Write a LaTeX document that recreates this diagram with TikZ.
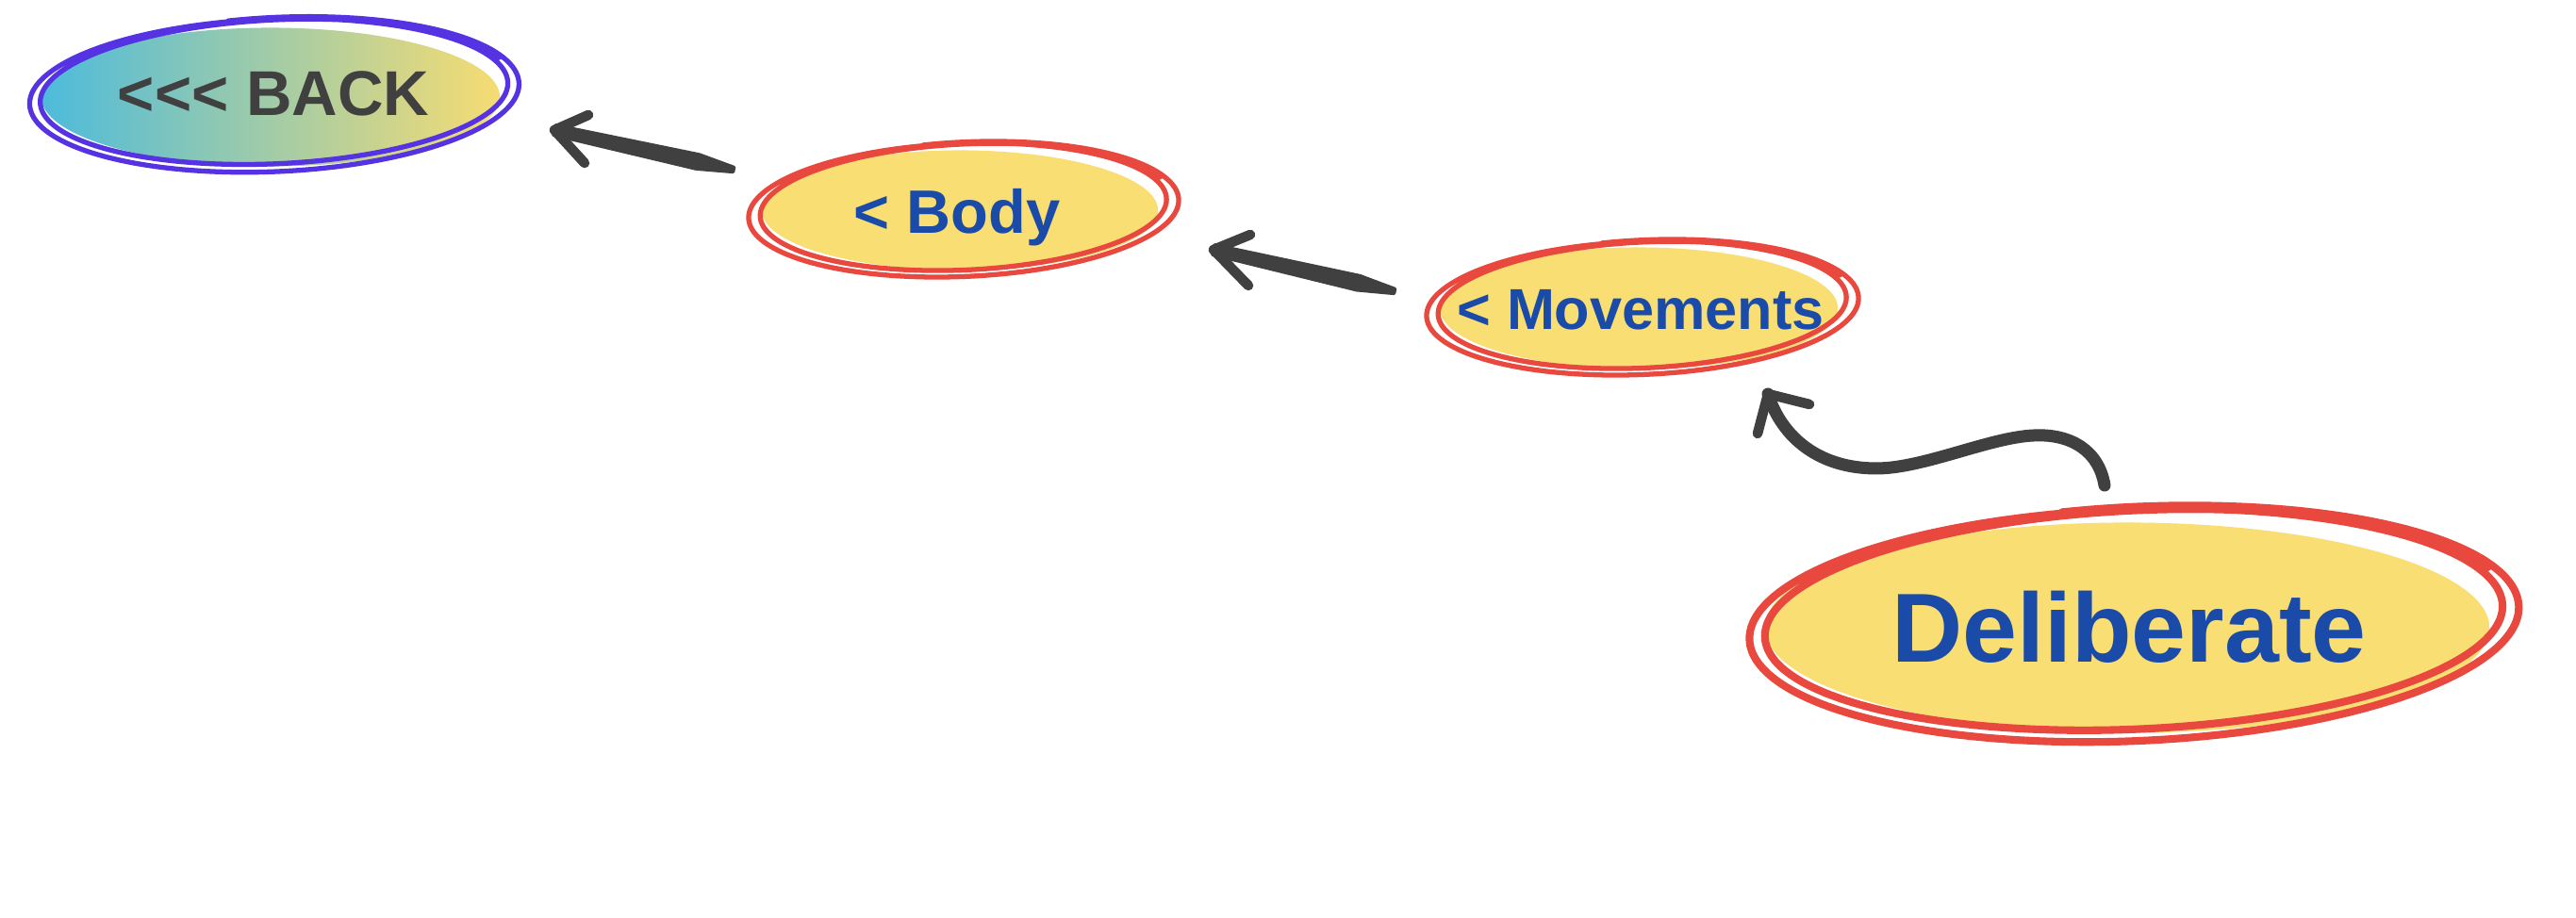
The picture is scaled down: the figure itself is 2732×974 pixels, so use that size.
\documentclass[tikz,border=0pt]{standalone}
\usepackage{fontspec}
\setmainfont{Liberation Sans}
\usetikzlibrary{shapes.geometric,calc}
\definecolor{ylw}{HTML}{F9DE74}
\definecolor{redo}{HTML}{E9483F}
\definecolor{blu}{HTML}{1A4BA8}
\definecolor{purp}{HTML}{5532E2}
\definecolor{gL}{HTML}{4DBBDC}
\definecolor{gR}{HTML}{F6DC72}
\definecolor{ink}{HTML}{404040}
% hand-drawn looking outline: cx, cy, rx, ry, offx, offy, colour, width
\newcommand{\scrib}[8]{%
  \draw[#7, line width=#8, line cap=round, line join=round]
    plot[smooth, samples=200, domain=-100:700, variable=\t]
    ({#1 + (#3 + #5*(1+0.7*sin(0.45*\t+60)))*cos(\t)*cos(2.5) + (#4 + #6*(1+0.7*sin(0.45*\t+60)))*sin(\t)*sin(2.5)},
     {#2 - (#3 + #5*(1+0.7*sin(0.45*\t+60)))*cos(\t)*sin(2.5) + (#4 + #6*(1+0.7*sin(0.45*\t+60)))*sin(\t)*cos(2.5)});
}
% tapered straight shaft from tip (#1) to tail (#2), mid point name #3
\newcommand{\taper}[3]{%
  \coordinate (#3) at ($(#1)!0.8!(#2)$);
  \filldraw[ink, line width=1pt, line join=round]
    ($(#1)!1.5pt!90:(#2)$) -- ($(#3)!2.2pt!90:(#2)$) -- ($(#2)!0.7pt!-90:(#1)$)
    -- ($(#2)!0.7pt!90:(#1)$) -- ($(#3)!2.2pt!-90:(#2)$) -- ($(#1)!1.5pt!-90:(#2)$) -- cycle;
}
\begin{document}
\begin{tikzpicture}[x=0.01cm, y=-0.01cm,
  blob/.style={ellipse, inner sep=0pt, draw=none},
  lbl/.style={anchor=base, inner sep=0pt},
  shaft/.style={draw=ink, line width=3.7pt, line cap=round},
  barb/.style={draw=ink, line width=3pt, line cap=round, line join=round}]
\useasboundingbox[fill=white] (0,0) rectangle (2732,974);

% ellipses
\node[blob, left color=gL, right color=gR, minimum width=4.86cm, minimum height=1.47cm] (back) at (287,103) {};
\node[blob, fill=ylw, minimum width=4.20cm, minimum height=1.27cm] (body) at (1018,223) {};
\node[blob, fill=ylw, minimum width=4.22cm, minimum height=1.29cm] (mov) at (1738,327) {};
\node[blob, fill=ylw, minimum width=7.68cm, minimum height=2.23cm] (delib) at (2256,666) {};

% outlines
\scrib{290}{99}{243}{73}{11}{6}{purp}{1.5pt}
\scrib{1021}{221}{210}{64}{12}{5}{redo}{1.5pt}
\scrib{1741}{325}{211}{64}{12}{5}{redo}{1.5pt}
\scrib{2262}{660}{384}{111}{16}{9}{redo}{2.3pt}

% labels
\node[lbl, text=ink, font=\fontsize{19.1}{20}\selectfont\bfseries] (backtxt) at (290,123) {{<}{<}{<} BACK};
\node[lbl, text=blu, font=\fontsize{18.5}{20}\selectfont\bfseries] (bodytxt) at (1015,248) {{<} Body};
\node[lbl, text=blu, font=\fontsize{17.4}{19}\selectfont\bfseries] (movtxt) at (1740,350) {{<} Movements};
\node[lbl, text=blu, font=\fontsize{29.6}{31}\selectfont\bfseries] (delibtxt) at (2258,703) {Deliberate};

% connectors
\coordinate (a1s) at (778,180);
\coordinate (a1e) at (588,138);
\coordinate (a2s) at (1479,309);
\coordinate (a2e) at (1287,265);
\coordinate (a3s) at (2232,515);
\coordinate (a3e) at (1875,418);

\taper{a1e}{a1s}{a1m}
\draw[barb] ($(a1e)+(36,-16)$) -- (a1e) -- ($(a1e)+(32,35)$);

\taper{a2e}{a2s}{a2m}
\draw[barb] ($(a2e)+(39,-16)$) -- (a2e) -- ($(a2e)+(37,38)$);

\draw[shaft] (a3s) .. controls (2226,478) and (2196,460) .. (2157,462)
  .. controls (2110,464) and (2040,497) .. (1990,497)
  .. controls (1930,497) and (1890,465) .. (a3e);
\draw[barb] ($(a3e)+(44,11)$) -- (a3e) -- ($(a3e)+(-11,42)$);
\end{tikzpicture}
\end{document}
